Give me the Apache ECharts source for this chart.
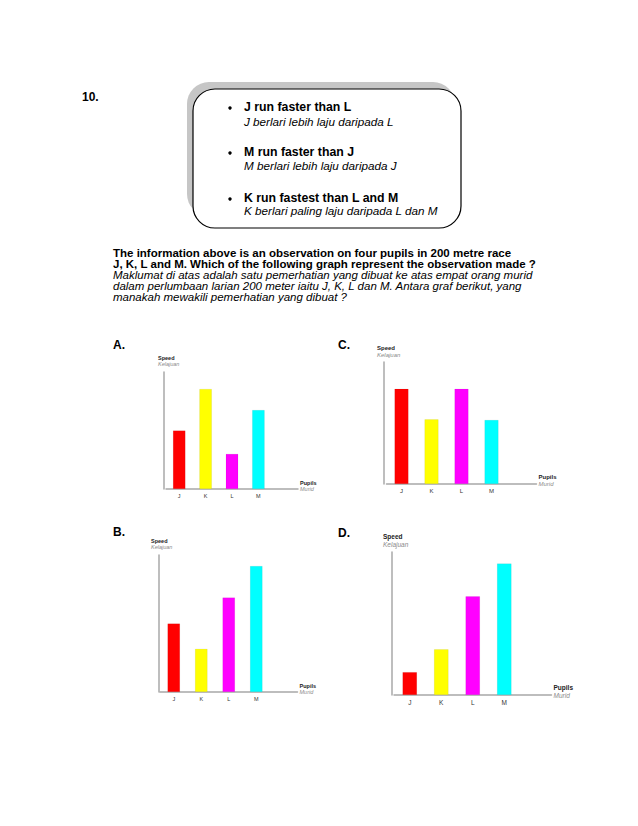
<!DOCTYPE html>
<html><head><meta charset="utf-8">
<script src="https://cdn.jsdelivr.net/npm/echarts@6/dist/echarts.min.js"></script>
<style>html,body{margin:0;padding:0;background:#fff}#c{width:638px;height:826px}</style>
</head><body><div id="c"></div>
<script>
// ---- data ----
const pupils = ['J', 'K', 'L', 'M'];
const speedA = [50, 85.5, 30, 67.5];
const speedB = [50, 31.5, 69, 92];
const speedC = [78, 53, 78, 52.5];
const speedD = [16, 32, 69, 92];
const barColors = ['#ff0000', '#ffff00', '#ff00ff', '#00ffff'];
const yAxisName = ['Speed', 'Kelajuan'];
const xAxisName = ['Pupils', 'Murid'];
const questionNo = '10.';
const observationsEn = ['J run faster than L', 'M run faster than J', 'K run fastest than L and M'];
const observationsMs = ['J berlari lebih laju daripada L', 'M berlari lebih laju daripada J', 'K berlari paling laju daripada L dan M'];
const questionEn = ['The information above is an observation on four pupils in 200 metre race',
  'J, K, L and M. Which of the following graph represent the observation made ?'];
const questionMs = ['Maklumat di atas adalah satu pemerhatian yang dibuat ke atas empat orang murid',
  'dalam perlumbaan larian 200 meter iaitu J, K, L dan M. Antara graf berikut, yang',
  'manakah mewakili pemerhatian yang dibuat ?'];
const optionLetters = ['A.', 'B.', 'C.', 'D.'];

const FONT = '"Liberation Sans", Arial, Helvetica, sans-serif';
const chart = echarts.init(document.getElementById('c'), null, { renderer: 'svg' });

const panels = [
  { letter: optionLetters[0], data: speedA, grid: { left: 166, top: 372, width: 132, height: 117 }, yOff: 2, bw: 12.5, fs: 5.5,
    lp: [113, 346], sp: [158, 358] },
  { letter: optionLetters[1], data: speedB, grid: { left: 160, top: 555, width: 137.5, height: 137 }, yOff: 1, bw: 12.5, fs: 5.5,
    lp: [113, 533], sp: [151, 541] },
  { letter: optionLetters[2], data: speedC, grid: { left: 386.5, top: 362, width: 150, height: 122 }, yOff: 2.5, bw: 14, fs: 6,
    lp: [338, 346], sp: [377, 349] },
  { letter: optionLetters[3], data: speedD, grid: { left: 394, top: 552, width: 157.5, height: 143 }, yOff: 2, bw: 14.5, fs: 6.5,
    lp: [338, 534], sp: [383, 537] }
];

const axisColor = '#a8a8a8';
const grids = [], xAxes = [], yAxes = [], series = [];
const graphics = [];

panels.forEach((p, i) => {
  grids.push(Object.assign({ containLabel: false }, p.grid));
  xAxes.push({
    gridIndex: i, type: 'category', data: pupils.concat(['']),
    axisLine: { lineStyle: { color: axisColor, width: 1.5 } },
    axisTick: { show: false },
    axisLabel: { fontSize: p.fs, color: '#333', margin: 4, fontFamily: FONT },
    name: '{a|' + xAxisName[0] + '}\n{b|' + xAxisName[1] + '}',
    nameLocation: 'end', nameGap: 2,
    nameTextStyle: {
      align: 'left', verticalAlign: 'middle', padding: [0, 0, p.fs * 1.1, 0],
      rich: {
        a: { fontSize: p.fs, fontWeight: 'bold', color: '#222', fontFamily: FONT, lineHeight: p.fs * 1.15 },
        b: { fontSize: p.fs, fontStyle: 'italic', color: '#8a8a8a', fontFamily: FONT, lineHeight: p.fs * 1.15 }
      }
    }
  });
  yAxes.push({
    gridIndex: i, type: 'value', min: 0, max: 100, offset: p.yOff,
    axisLine: { show: true, lineStyle: { color: axisColor, width: 1.5 } },
    axisTick: { show: false }, axisLabel: { show: false }, splitLine: { show: false }
  });
  series.push({
    type: 'bar', xAxisIndex: i, yAxisIndex: i, barWidth: p.bw,
    data: p.data.map((v, k) => ({ value: v, itemStyle: { color: barColors[k], borderColor: 'rgba(0,0,0,0.12)', borderWidth: 0.5 } })),
    silent: true, animation: false
  });
  graphics.push({
    type: 'text', left: p.lp[0], top: p.lp[1] - 7,
    style: { text: p.letter, font: 'bold 12px ' + FONT, fill: '#000' }
  });
  graphics.push({
    type: 'text', left: p.sp[0], top: p.sp[1] - p.fs * 0.6,
    style: {
      text: '{a|' + yAxisName[0] + '}\n{b|' + yAxisName[1] + '}',
      rich: {
        a: { fontSize: p.fs, fontWeight: 'bold', fill: '#222', fontFamily: FONT, lineHeight: p.fs * 1.15 },
        b: { fontSize: p.fs, fontStyle: 'italic', fill: '#8a8a8a', fontFamily: FONT, lineHeight: p.fs * 1.15 }
      }
    }
  });
});

// header
graphics.push({ type: 'text', left: 82, top: 91, style: { text: questionNo, font: 'bold 12px ' + FONT, fill: '#000' } });
graphics.push({ type: 'rect', shape: { x: 187, y: 82, width: 268, height: 134, r: 22 }, style: { fill: '#c6c6c6' } });
graphics.push({ type: 'rect', shape: { x: 193, y: 89, width: 268, height: 139, r: 22 }, style: { fill: '#fff', stroke: '#000', lineWidth: 1.2 } });
const obsY = [107, 152, 198];
const obsY2 = [121, 165, 210];
observationsEn.forEach((t, k) => {
  graphics.push({ type: 'circle', shape: { cx: 230, cy: obsY[k] + 1, r: 1.7 }, style: { fill: '#000' } });
  graphics.push({ type: 'text', x: 244, y: obsY[k], style: { text: t, font: 'bold 12.3px ' + FONT, fill: '#000', verticalAlign: 'middle' } });
  graphics.push({ type: 'text', x: 244, y: obsY2[k], style: { text: observationsMs[k], font: 'italic 11.7px ' + FONT, fill: '#000', verticalAlign: 'middle' } });
});
// question paragraph, one text per line
const qY = [253, 264, 275, 286, 297];
questionEn.concat(questionMs).forEach((t, k) => {
  graphics.push({ type: 'text', x: 113, y: qY[k],
    style: { text: t, font: (k < 2 ? 'bold ' : 'italic ') + '11.5px ' + FONT, fill: '#000', verticalAlign: 'middle' } });
});

chart.setOption({
  animation: false,
  backgroundColor: '#fff',
  grid: grids, xAxis: xAxes, yAxis: yAxes, series: series,
  graphic: graphics
});
</script></body></html>
